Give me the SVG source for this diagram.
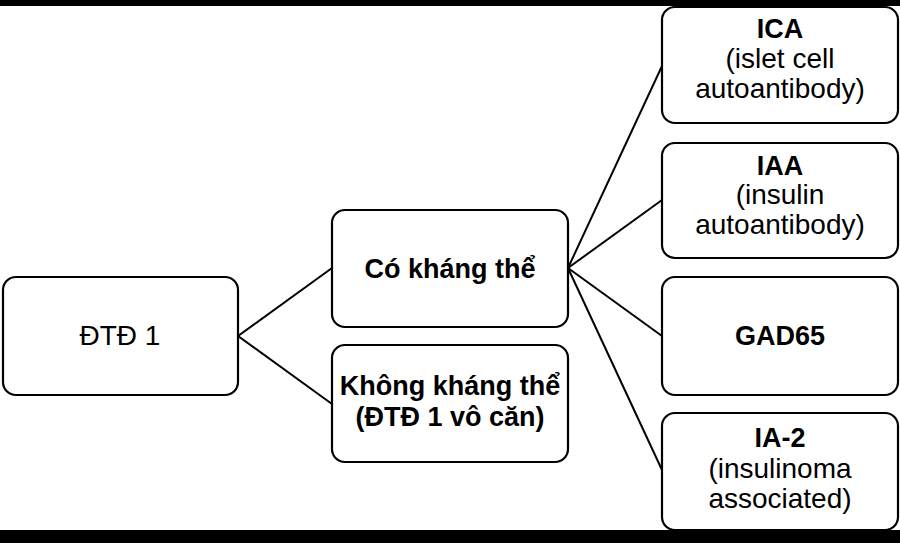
<svg xmlns="http://www.w3.org/2000/svg" width="900" height="543" viewBox="0 0 900 543">
<style>
.box{fill:#fff;stroke:#000;stroke-width:2.2}
.t{font-family:"Liberation Sans",Arial,sans-serif;font-size:28px;fill:#000;text-anchor:middle}
.b{font-weight:bold;font-size:27px}
.c{stroke:#000;stroke-width:2;fill:none}
</style>
<rect x="0" y="0" width="900" height="543" fill="#fff"/>
<g id="connectors">
<line class="c" x1="238" y1="336" x2="332" y2="268"/>
<line class="c" x1="238" y1="336" x2="332" y2="404"/>
<line class="c" x1="568" y1="268" x2="662" y2="66"/>
<line class="c" x1="568" y1="268" x2="662" y2="200"/>
<line class="c" x1="568" y1="268" x2="662" y2="336"/>
<line class="c" x1="568" y1="268" x2="662" y2="470"/>
</g>
<g id="n-dtd1">
<rect class="box" x="3" y="277" width="235" height="118" rx="13"/>
<text class="t" x="120" y="345">ĐTĐ 1</text>
</g>
<g id="n-co">
<rect class="box" x="332" y="210" width="236" height="117" rx="13"/>
<text class="t b" x="450" y="278">Có kháng thể</text>
</g>
<g id="n-khong">
<rect class="box" x="332" y="345" width="236" height="117" rx="13"/>
<text class="t b" x="450" y="395">Không kháng thể</text>
<text class="t b" x="450" y="426">(ĐTĐ 1 vô căn)</text>
</g>
<g id="n-ica">
<rect class="box" x="662" y="7" width="236" height="116" rx="13"/>
<text class="t b" x="780" y="38">ICA</text>
<text class="t" x="780" y="68">(islet cell</text>
<text class="t" x="780" y="98">autoantibody)</text>
</g>
<g id="n-iaa">
<rect class="box" x="662" y="143" width="236" height="115" rx="13"/>
<text class="t b" x="780" y="175">IAA</text>
<text class="t" x="780" y="204">(insulin</text>
<text class="t" x="780" y="234">autoantibody)</text>
</g>
<g id="n-gad">
<rect class="box" x="662" y="277" width="236" height="118" rx="13"/>
<text class="t b" x="780" y="345">GAD65</text>
</g>
<g id="n-ia2">
<rect class="box" x="662" y="413" width="236" height="117" rx="13"/>
<text class="t b" x="780" y="447">IA-2</text>
<text class="t" x="780" y="478">(insulinoma</text>
<text class="t" x="780" y="508">associated)</text>
</g>
<rect x="0" y="0" width="900" height="6" fill="#000"/>
<rect x="0" y="530" width="900" height="13" fill="#000"/>
</svg>
